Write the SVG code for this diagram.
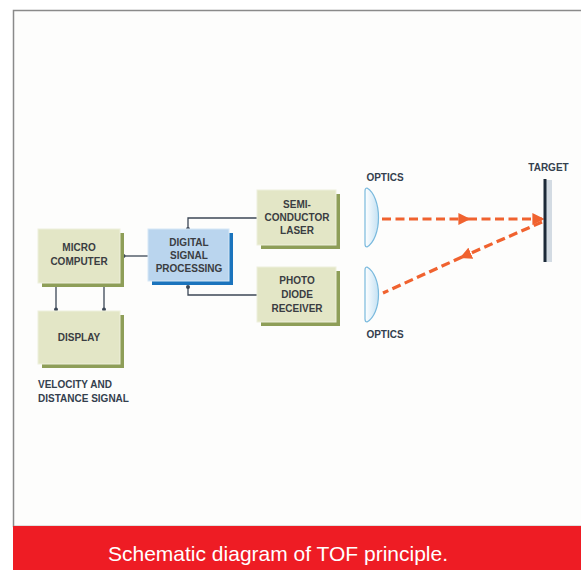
<svg xmlns="http://www.w3.org/2000/svg" width="581" height="570" viewBox="0 0 581 570">
<defs>
<style>
.box{fill:#e3e6c6;stroke:#eef0dc;stroke-width:1}
.shd{fill:#8e9e58}
.dspbox{fill:#bad5ee;stroke:#d6e7f6;stroke-width:1}
.dspshd{fill:#1b74bd}
.t{font-family:"Liberation Sans",Arial,sans-serif;font-weight:bold;font-size:10px;fill:#3a3d42;text-anchor:middle}
.lbl{font-family:"Liberation Sans",Arial,sans-serif;font-weight:bold;font-size:10px;fill:#34404e}
.wire{fill:none;stroke:#3c4756;stroke-width:1.3}
.dot{fill:#3c4756}
.beam{fill:none;stroke:#f0622f;stroke-width:3.2;stroke-dasharray:9 4.5}
.lens{fill:url(#lg);stroke:#79b9dd;stroke-width:1.2}
</style>
<linearGradient id="lg" x1="0" y1="0" x2="1" y2="0">
<stop offset="0" stop-color="#ffffff"/>
<stop offset="1" stop-color="#c4e1f3"/>
</linearGradient>
<marker id="ah" viewBox="0 0 10 10" refX="8" refY="5" markerWidth="12" markerHeight="12" markerUnits="userSpaceOnUse" orient="auto">
<path d="M0,0 L10,5 L0,10 Z" fill="#f0622f"/>
</marker>
</defs>
<rect x="0" y="0" width="581" height="570" fill="#ffffff"/>
<rect x="13.5" y="10.5" width="570" height="516" fill="#fdfdfc" stroke="#8a8a8a" stroke-width="1.5"/>
<rect x="13" y="526" width="568" height="44" fill="#ee1c24"/>
<text x="278" y="561" font-family="Liberation Sans,Arial,sans-serif" font-size="21" fill="#ffffff" text-anchor="middle">Schematic diagram of TOF principle.</text>

<g id="connectors">
<path class="wire" d="M148,256 L124,256"/>
<circle class="dot" cx="123.5" cy="256" r="2"/>
<path class="wire" d="M257,218 L188,218 L188,228"/>
<circle class="dot" cx="188" cy="229" r="2"/>
<path class="wire" d="M257,295 L188,295 L188,288"/>
<circle class="dot" cx="188" cy="287" r="2"/>
<path class="wire" d="M56,287 L56,309"/>
<circle class="dot" cx="56" cy="309.5" r="2"/>
<path class="wire" d="M104,287 L104,309"/>
<circle class="dot" cx="104" cy="309.5" r="2"/>
<path class="beam" d="M382,219 L468,219" marker-end="url(#ah)"/>
<path class="beam" d="M468,219 L542,219" marker-end="url(#ah)"/>
<path class="beam" d="M542,222 L462,257" marker-end="url(#ah)"/>
<path class="beam" d="M462,257 L383,293"/>
</g>

<g id="micro">
<rect class="shd" x="42" y="233" width="82" height="54"/>
<rect class="box" x="38" y="229" width="82" height="54"/>
<text class="t" x="79" y="251">MICRO</text>
<text class="t" x="79" y="265">COMPUTER</text>
</g>
<g id="display">
<rect class="shd" x="42" y="315" width="82" height="53"/>
<rect class="box" x="38" y="311" width="82" height="53"/>
<text class="t" x="79" y="341">DISPLAY</text>
</g>
<g id="signal-label">
<text class="lbl" x="38" y="388">VELOCITY AND</text>
<text class="lbl" x="38" y="402">DISTANCE SIGNAL</text>
</g>
<g id="dsp">
<rect class="dspshd" x="152" y="233" width="81" height="52"/>
<rect class="dspbox" x="148" y="229" width="81" height="52"/>
<text class="t" x="189" y="246">DIGITAL</text>
<text class="t" x="189" y="259">SIGNAL</text>
<text class="t" x="189" y="272">PROCESSING</text>
</g>
<g id="laser">
<rect class="shd" x="261" y="194" width="79" height="55"/>
<rect class="box" x="257" y="190" width="79" height="55"/>
<text class="t" x="297" y="208">SEMI-</text>
<text class="t" x="297" y="221">CONDUCTOR</text>
<text class="t" x="297" y="234">LASER</text>
</g>
<g id="photo">
<rect class="shd" x="261" y="271" width="79" height="55"/>
<rect class="box" x="257" y="267" width="79" height="55"/>
<text class="t" x="297" y="284">PHOTO</text>
<text class="t" x="297" y="298">DIODE</text>
<text class="t" x="297" y="312">RECEIVER</text>
</g>
<g id="optics-top">
<path class="lens" d="M367,188 C374,192 378.5,204 378.5,217.5 C378.5,231 374,243 367,247 Q365,247 365,244 L365,191 Q365,188 367,188 Z"/>
<text class="lbl" x="385" y="181" text-anchor="middle">OPTICS</text>
</g>
<g id="optics-bottom">
<path class="lens" d="M367,267 C374,271 378.5,282 378.5,294.5 C378.5,307 374,318 367,322 Q365,322 365,319 L365,270 Q365,267 367,267 Z"/>
<text class="lbl" x="385" y="338" text-anchor="middle">OPTICS</text>
</g>
<g id="target">
<rect x="546" y="180" width="6" height="82" fill="#d3dbe3"/>
<rect x="543.5" y="179" width="3" height="83" fill="#1c2a38"/>
<text class="lbl" x="548.5" y="171" text-anchor="middle">TARGET</text>
</g>
</svg>
